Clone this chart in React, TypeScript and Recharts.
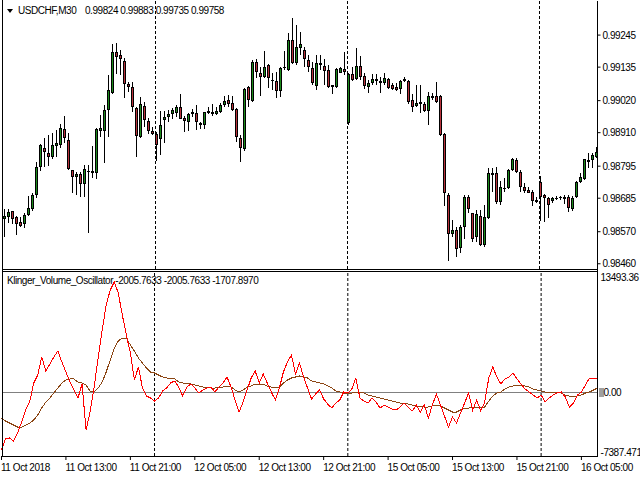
import React from 'react';
import { ComposedChart, Bar, Line, XAxis, YAxis, ReferenceLine } from 'recharts';

// USDCHF M30 candles, prices in points (price = pts / 100000)
const openPts = [
  98614, 98621, 98641, 98621, 98604, 98597, 98628, 98648, 98696, 98792,
  98857, 98840, 98827, 98864, 98868, 98923, 98885, 98782, 98758, 98768,
  98734, 98779, 98772, 98772, 98916, 98916, 98988, 99046, 99187, 99176,
  99156, 99077, 99067, 98995, 98895, 99001, 98950, 98916, 98905, 98888,
  98953, 98964, 98974, 98977, 98998, 98960, 98947, 98974, 98977, 98943,
  98936, 98977, 98981, 98974, 98981, 99005, 99022, 99012, 98991, 98892,
  98854, 99067, 99019, 99152, 99115, 99101, 99142, 99091, 99087, 99053,
  99132, 99125, 99228, 99149, 99200, 99194, 99159, 99132, 99070, 99149,
  99139, 99125, 99073, 99067, 99115, 99128, 98943, 99111, 99094, 99139,
  99104, 99067, 99080, 99087, 99087, 99080, 99094, 99073, 99067, 99060,
  99094, 99087, 99022, 99001, 99015, 99008, 98984, 99029, 99036, 99036,
  98905, 98696, 98562, 98576, 98514, 98586, 98689, 98634, 98552, 98624,
  98525, 98617, 98772, 98772, 98672, 98720, 98720, 98782, 98816, 98775,
  98724, 98713, 98707, 98679, 98741, 98696, 98686, 98676, 98682, 98689,
  98689, 98689, 98648, 98689, 98741, 98751, 98816, 98816, 98827,
];
const highPts = [
  98648, 98648, 98641, 98624, 98621, 98634, 98693, 98703, 98809, 98871,
  98892, 98902, 98909, 98919, 98940, 98967, 98909, 98782, 98775, 98775,
  98799, 98799, 98864, 98926, 98971, 99005, 99108, 99214, 99218, 99194,
  99166, 99084, 99084, 98998, 99032, 99015, 98960, 98929, 98912, 98984,
  98984, 98988, 98995, 99005, 99043, 98967, 98977, 98991, 99005, 98947,
  98981, 98998, 99008, 98998, 99012, 99036, 99039, 99036, 98995, 98902,
  99063, 99070, 99159, 99163, 99135, 99190, 99145, 99115, 99118, 99135,
  99190, 99252, 99303, 99279, 99255, 99204, 99176, 99152, 99176, 99176,
  99163, 99142, 99073, 99132, 99135, 99187, 99115, 99135, 99200, 99173,
  99115, 99091, 99111, 99111, 99101, 99115, 99097, 99080, 99080, 99091,
  99101, 99091, 99043, 99073, 99073, 99015, 99049, 99046, 99084, 99039,
  98909, 98703, 98610, 98586, 98593, 98696, 98696, 98634, 98645, 98645,
  98662, 98789, 98789, 98792, 98744, 98755, 98785, 98823, 98823, 98782,
  98737, 98724, 98713, 98689, 98761, 98700, 98689, 98689, 98693, 98693,
  98696, 98696, 98693, 98744, 98772, 98820, 98840, 98840, 98861,
];
const lowPts = [
  98552, 98600, 98597, 98559, 98586, 98583, 98624, 98641, 98686, 98779,
  98792, 98796, 98820, 98827, 98857, 98875, 98782, 98703, 98696, 98689,
  98689, 98566, 98755, 98751, 98895, 98806, 98895, 99043, 99111, 99108,
  99029, 99049, 98981, 98827, 98892, 98929, 98905, 98902, 98813, 98833,
  98875, 98947, 98957, 98964, 98957, 98912, 98916, 98964, 98919, 98923,
  98923, 98974, 98967, 98971, 98977, 98998, 98998, 98984, 98878, 98809,
  98847, 98998, 99015, 99097, 99036, 99097, 99063, 99056, 99029, 99032,
  99125, 99121, 99145, 99142, 99176, 99135, 99118, 99073, 99056, 99125,
  99073, 99063, 99043, 99063, 99115, 99108, 98936, 99087, 99091, 99091,
  99060, 99046, 99073, 99073, 99046, 99073, 99060, 99056, 99053, 99043,
  99084, 99008, 98981, 98998, 98977, 98981, 98936, 99022, 99012, 98899,
  98659, 98470, 98552, 98483, 98497, 98545, 98634, 98535, 98535, 98521,
  98518, 98614, 98707, 98665, 98662, 98707, 98717, 98779, 98772, 98707,
  98703, 98703, 98659, 98669, 98607, 98604, 98617, 98669, 98679, 98679,
  98665, 98638, 98641, 98686, 98737, 98748, 98789, 98789, 98823,
];
const closePts = [
  98624, 98638, 98614, 98597, 98590, 98628, 98652, 98696, 98792, 98868,
  98844, 98827, 98868, 98875, 98926, 98892, 98785, 98758, 98768, 98734,
  98785, 98775, 98779, 98923, 98926, 98988, 99056, 99187, 99169, 99163,
  99077, 99067, 98998, 98899, 99008, 98953, 98916, 98905, 98868, 98936,
  98964, 98974, 98988, 98998, 98957, 98950, 98974, 98981, 98947, 98936,
  98981, 98984, 98974, 98984, 99005, 99019, 99008, 98988, 98895, 98857,
  99060, 99022, 99152, 99118, 99101, 99135, 99097, 99087, 99053, 99132,
  99135, 99228, 99149, 99204, 99214, 99163, 99135, 99080, 99149, 99142,
  99121, 99067, 99067, 99128, 99132, 99118, 99111, 99091, 99139, 99101,
  99070, 99080, 99094, 99094, 99080, 99097, 99063, 99060, 99056, 99087,
  99087, 99015, 98998, 99012, 99008, 98984, 99036, 99036, 99015, 98902,
  98703, 98562, 98576, 98511, 98586, 98689, 98648, 98545, 98631, 98525,
  98621, 98772, 98765, 98672, 98724, 98717, 98782, 98820, 98775, 98724,
  98710, 98703, 98676, 98672, 98689, 98686, 98662, 98686, 98686, 98686,
  98682, 98652, 98686, 98741, 98758, 98820, 98809, 98833, 98844,
];

// Klinger Volume Oscillator (red) and its signal (brown)
const kvoValues = [
  -7057, -5711, -5589, -5956, -4978, -3632, -2165, -1186, 1137, 2116,
  4317, 2605, 3461, 4317, 5051, 3706, 2483, 1260, 281, -697,
  1015, -4611, -2409, 648, 4195, 7619, 10677, 12511, 13493, 12144,
  9454, 7008, 4806, 1504, 3094, 526, -453, -697, -1064, -697,
  159, 526, 1137, 1382, 648, -453, 648, 1015, 526, -86,
  281, 526, 648, 37, 648, 1137, 1871, 648, -942, -2409,
  -1186, 281, 1749, 2605, 1137, 2238, 1137, 37, -942, 526,
  2483, 3706, 4562, 2238, 3583, 1871, 526, -819, -208, 281,
  -819, -1431, -1920, -1309, -942, 37, -86, 404, 1749, -697,
  -1064, -1309, -697, -1186, -1920, -1553, -1798, -2042, -2165, -1798,
  -1309, -1850, -2287, -1553, -2409, -1553, -3143, -1553, -208, -1553,
  -2899, -4244, -3021, -3755, -2532, -1309, -86, -2165, -942, -2287,
  -1186, 1749, 3094, 1871, 1015, 1627, 1871, 2360, 1627, 1015,
  404, 37, -330, -697, -330, -1186, -697, -330, -86, 37,
  -575, -1798, -1309, -330, 37, 893, 1749, 1749, 1749,
];
const signalValues = [
  -3143, -3510, -3755, -3999, -4244, -4244, -3999, -3755, -3388, -2776,
  -1920, -1186, -697, -86, 526, 1137, 1504, 1627, 1627, 1260,
  1137, 893, 159, 37, 526, 1260, 2483, 3950, 5418, 6274,
  6641, 6641, 5785, 5051, 4195, 3583, 2972, 2483, 2360, 2116,
  1871, 1749, 1627, 1627, 1260, 1137, 1137, 1015, 893, 770,
  648, 648, 526, 526, 648, 648, 770, 648, 281, 37,
  281, 648, 770, 1015, 1015, 1015, 770, 648, 648, 648,
  1137, 1504, 1749, 1871, 1993, 1871, 1749, 1382, 1260, 1137,
  1015, 770, 526, 159, 37, -86, -86, -86, 37, 37,
  -86, -330, -453, -575, -697, -819, -942, -1064, -1186, -1309,
  -1309, -1431, -1553, -1676, -1676, -1798, -1798, -1676, -1553, -1676,
  -1920, -2165, -2409, -2409, -2165, -1920, -1920, -1798, -1798, -1798,
  -1798, -1064, -453, -86, 37, 404, 648, 770, 893, 893,
  770, 648, 404, 281, 159, 37, 37, 37, 37, -86,
  -330, -453, -575, -453, -330, -86, 37, 281, 526,
];

const priceTicks = [0.99245, 0.99135, 0.9902, 0.9891, 0.98795, 0.98685, 0.9857, 0.9846];
const oscTicks = [13493.36, 0, -7387.471];
const timeTickIdx = [0, 16, 32, 48, 64, 80, 96, 112, 128, 144];
const timeTickLabels = [
  '11 Oct 2018', '11 Oct 13:00', '11 Oct 21:00', '12 Oct 05:00', '12 Oct 13:00',
  '12 Oct 21:00', '15 Oct 05:00', '15 Oct 13:00', '15 Oct 21:00', '16 Oct 05:00',
];
const daySeparators = [38, 86, 134];

const rows = openPts.map((o, i) => ({
  i,
  op: o / 1e5,
  hi: highPts[i] / 1e5,
  lo: lowPts[i] / 1e5,
  cl: closePts[i] / 1e5,
  range: [lowPts[i] / 1e5, highPts[i] / 1e5],
  kvo: kvoValues[i],
  sig: signalValues[i],
}));

const FONT = '"Liberation Sans", Arial, sans-serif';
const textStyle = { fontFamily: FONT, fontSize: 10, letterSpacing: -0.45 } as any;

const Candle = (props: any) => {
  const { x, y, width, height, payload } = props;
  if (!payload) return null;
  const top = Math.min(y, y + height);
  const h = Math.abs(height);
  const { op, hi, lo, cl } = payload;
  const k = hi > lo ? h / (hi - lo) : 0;
  const cx = Math.round(x + width / 2 - 0.5) + 0.5;
  const yOf = (v: number) => top + (hi - v) * k;
  const bTop = Math.round(yOf(Math.max(op, cl)));
  const bBot = Math.round(yOf(Math.min(op, cl)));
  const bh = Math.max(1, bBot - bTop);
  const fill = cl >= op ? '#1b8a1b' : '#b8323c';
  return (
    <g>
      <line x1={cx} x2={cx} y1={Math.round(top)} y2={Math.round(top + h)} stroke="#000" strokeWidth={1} shapeRendering="crispEdges" />
      <rect x={cx - 1.5} y={bTop} width={3} height={bh} fill="#000" shapeRendering="crispEdges" />
      {bh > 2 && (
        <rect x={cx - 0.5} y={bTop + 1} width={1} height={bh - 2} fill={fill} shapeRendering="crispEdges" />
      )}
    </g>
  );
};

const PriceTick = (props: any) => {
  const { x, y, payload } = props;
  return (
    <text x={x} y={y} dy="0.355em" textAnchor="start" fill="#000" style={textStyle}>
      {Number(payload.value).toFixed(5)}
    </text>
  );
};

const OscTick = (props: any) => {
  const { x, y, payload } = props;
  const v = Number(payload.value);
  const label = v === 0 ? '0.00' : v > 0 ? v.toFixed(2) : v.toFixed(3);
  const shift = v > 10000 ? -5 : 0;
  return (
    <g>
      {v === 0 && <rect x={x - 1.5} y={Math.round(y) - 4} width={5} height={9} fill="#a0a0a0" />}
      <text x={v === 0 ? x + 3 : x} y={y + shift} dy="0.355em" textAnchor="start" fill="#000" style={textStyle}>
        {label}
      </text>
    </g>
  );
};

const TimeTick = (props: any) => {
  const { x, y, payload } = props;
  const idx = timeTickIdx.indexOf(Number(payload.value));
  return (
    <text x={x - 0.5} y={y} dy="0.71em" textAnchor="start" fill="#000" style={textStyle}>
      {idx >= 0 ? timeTickLabels[idx] : ''}
    </text>
  );
};

export default function App() {
  return (
    <div style={{ position: 'absolute', left: 0, top: 0, width: 640, height: 480, background: '#fff', overflow: 'hidden' }}>
      <div style={{ position: 'absolute', left: 0, top: 0 }}>
        <ComposedChart width={640} height={270} data={rows} margin={{ top: 1, right: 0, bottom: 1, left: 1.5 }}>
          <XAxis dataKey="i" hide />
          <YAxis
            orientation="right"
            width={42.5}
            type="number"
            domain={[0.98442, 0.99362]}
            allowDataOverflow
            ticks={priceTicks}
            interval={0}
            axisLine={{ stroke: '#000' }}
            tickLine={{ stroke: '#000' }}
            tickSize={3}
            tickMargin={2}
            tick={<PriceTick />}
          />
          {daySeparators.map((d) => (
            <ReferenceLine key={'p' + d} x={d} stroke="#000" strokeDasharray="3 2" />
          ))}
          <Bar dataKey="range" barSize={3} shape={<Candle />} isAnimationActive={false} />
        </ComposedChart>
      </div>
      <div style={{ position: 'absolute', left: 0, top: 270 }}>
        <ComposedChart width={640} height={210} data={rows} margin={{ top: 1, right: 0, bottom: 0, left: 1.5 }}>
          <XAxis
            dataKey="i"
            height={24}
            ticks={timeTickIdx}
            interval={0}
            axisLine={false}
            tickLine={{ stroke: '#000' }}
            tickSize={4}
            tickMargin={4}
            tick={<TimeTick />}
          />
          <YAxis
            orientation="right"
            width={42.5}
            type="number"
            domain={[-7790, 14835]}
            allowDataOverflow
            ticks={oscTicks}
            interval={0}
            axisLine={{ stroke: '#000' }}
            tickLine={false}
            tickSize={0}
            tickMargin={3}
            tick={<OscTick />}
          />
          <ReferenceLine y={0} stroke="#808080" shapeRendering="crispEdges" />
          {daySeparators.map((d) => (
            <ReferenceLine key={'o' + d} x={d} stroke="#000" strokeDasharray="3 2" />
          ))}
          <Line dataKey="sig" type="linear" stroke="#8b4513" strokeWidth={1} dot={false} isAnimationActive={false} shapeRendering="crispEdges" />
          <Line dataKey="kvo" type="linear" stroke="#ff0000" strokeWidth={1} dot={false} isAnimationActive={false} shapeRendering="crispEdges" />
        </ComposedChart>
      </div>
      <svg width={640} height={480} style={{ position: 'absolute', left: 0, top: 0, pointerEvents: 'none' }}>
        <g shapeRendering="crispEdges" stroke="#000" strokeWidth={1}>
          <line x1={2.5} x2={2.5} y1={0} y2={457} />
          <line x1={2} x2={598} y1={269.5} y2={269.5} />
          <line x1={2} x2={598} y1={271.5} y2={271.5} />
          <line x1={2} x2={598} y1={456.5} y2={456.5} />
          <line x1={597.5} x2={597.5} y1={269} y2={272} />
        </g>
        <polygon points="7,9 13,9 10,13" fill="#000" />
        <text x={18} y={14} fill="#000" style={textStyle}>USDCHF,M30</text>
        <text x={85} y={14} fill="#000" style={textStyle}>0.99824 0.99883 0.99735 0.99758</text>
        <text x={7} y={284} fill="#000" style={textStyle}>Klinger_Volume_Oscillator -2005.7633 -2005.7633 -1707.8970</text>
      </svg>
    </div>
  );
}
